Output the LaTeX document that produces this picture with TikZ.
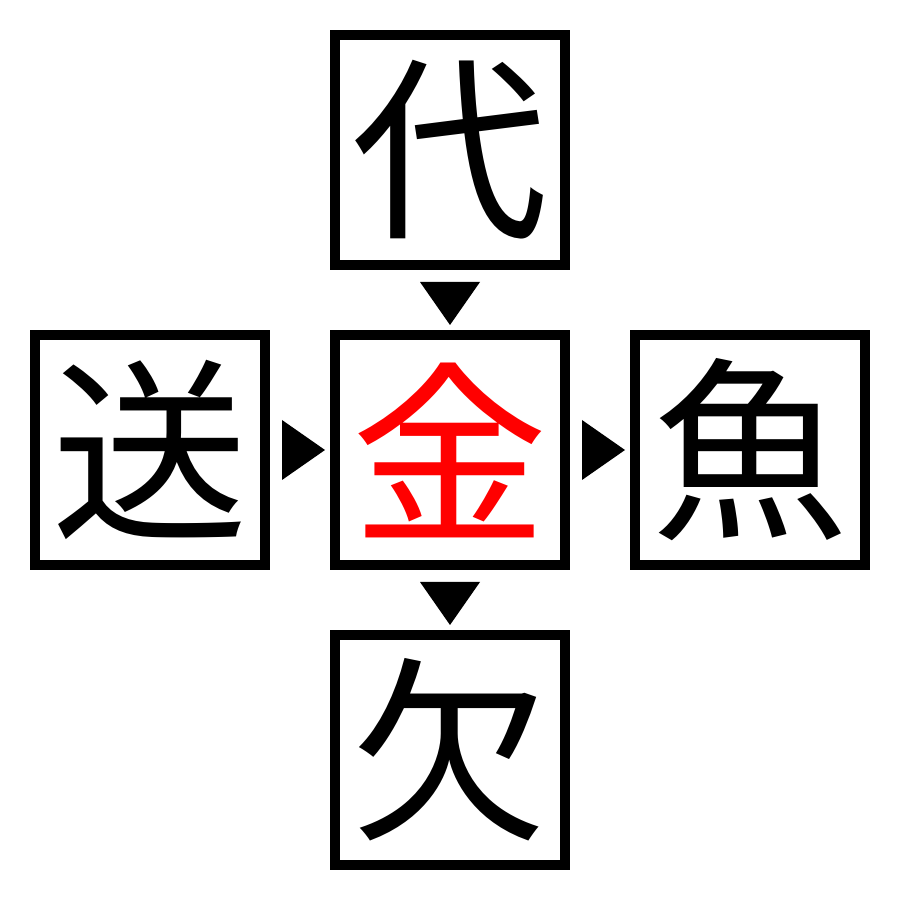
\documentclass[tikz,border=0pt]{standalone}
\usepackage{fontspec}
\newfontfamily\cjk{Noto Sans CJK JP}
\usepackage{tikz}
\usetikzlibrary{positioning}
\usetikzlibrary{calc}

\newcommand{\pointer}[2]{\fill[shift={#1},rotate=#2] (0.215,0) -- (-0.215,0.3) -- (-0.215,-0.3) -- cycle;}

\begin{document}
\begin{tikzpicture}[node distance=0.6cm,every node/.style={inner sep=0,outer sep=0.05cm,font=\cjk\fontsize{56}{56}\selectfont}]
    \useasboundingbox (0,0) rectangle (9,9);
    \tikzset{kanji/.style={draw,line width=0.1cm,minimum size=2.3cm}}
    \node[kanji,text=red] (kin) at (4.5,4.5) {金};
    \node[kanji] (dai) [above=of kin] {代};
    \node[kanji] (sou) [left=of kin] {送};
    \node[kanji] (gyo) [right=of kin] {魚};
    \node[kanji] (ketsu) [below=of kin] {欠};
    % pointers between the boxes
    \pointer{($(dai.south)!0.5!(kin.north)+(0,-0.035)$)}{-90}
    \pointer{($(sou.east)!0.5!(kin.west)+(0.035,0)$)}{0}
    \pointer{($(kin.east)!0.5!(gyo.west)+(0.035,0)$)}{0}
    \pointer{($(kin.south)!0.5!(ketsu.north)+(0,-0.035)$)}{-90}
\end{tikzpicture}
\end{document}
